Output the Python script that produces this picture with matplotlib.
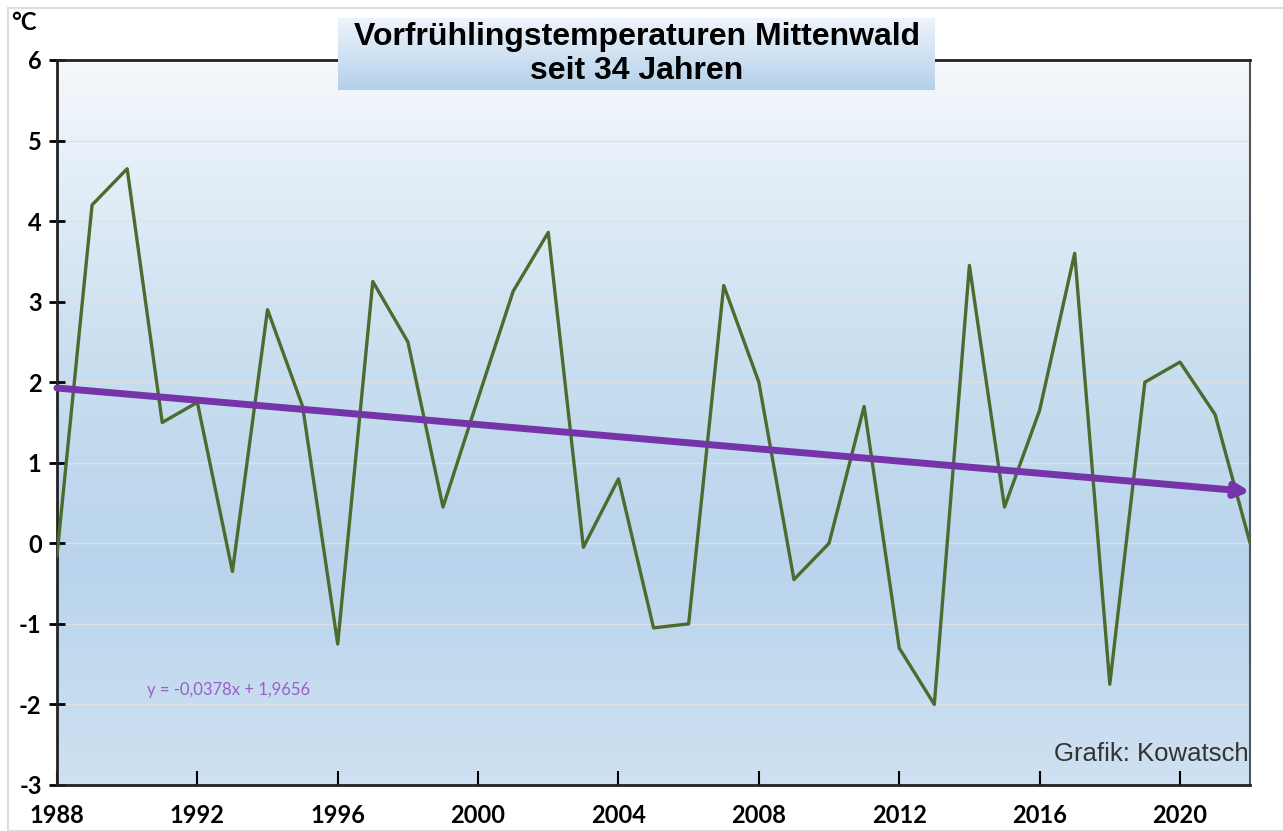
import numpy as np
import matplotlib.pyplot as plt
from matplotlib.colors import LinearSegmentedColormap
from matplotlib.patches import Rectangle

plt.rcParams["axes.unicode_minus"] = False

# Vorfrühlingstemperaturen Mittenwald, Mittelwerte in °C
years = list(range(1988, 2023))
temps = [-0.15, 4.2, 4.65, 1.5, 1.75, -0.35, 2.9, 1.7, -1.25, 3.25,
         2.5, 0.45, 1.8, 3.13, 3.86, -0.05, 0.8, -1.05, -1.0, 3.2,
         2.0, -0.45, 0.0, 1.7, -1.3, -2.0, 3.45, 0.45, 1.65, 3.6,
         -1.75, 2.0, 2.25, 1.6, 0.0]
# Excel-Trendlinie: y = -0,0378x + 1,9656 (x = 1, 2, ...)
slope = -0.0378
intercept = 1.9656
xticks = list(range(1988, 2023, 4))
yticks = list(range(-3, 7))

fig = plt.figure(figsize=(12.83, 8.31), dpi=100)
ax = fig.add_axes([0.0444, 0.0554, 0.9300, 0.8724])

# background gradient like the Excel plot area
bg = LinearSegmentedColormap.from_list(
    "bg", [(0.0, "#cfe1f2"), (0.30, "#b9d4ec"), (0.60, "#cadff0"), (1.0, "#f5f8fc")])
grad = np.linspace(0, 1, 256).reshape(-1, 1)
ax.imshow(grad, cmap=bg, aspect="auto", origin="lower",
          extent=[1988, 2022, -3, 6], zorder=0)

for y in yticks[1:-1]:
    ax.axhline(y, color="#dde1e6", lw=1, zorder=1)

ax.plot(years, temps, color="#4b6b2f", lw=2.4, zorder=3)

idx = np.arange(1, len(years) + 1)
trend = slope * idx + intercept
ax.annotate("", xy=(years[-1], trend[-1]), xytext=(years[0], trend[0]),
            arrowprops=dict(arrowstyle="-|>,head_length=0.8,head_width=0.4",
                            color="#7534a8", lw=5, shrinkA=0, shrinkB=0),
            zorder=4)

ax.text(1992.9, -1.82, "y = -0,0378x + 1,9656", color="#9b5fc7",
        fontsize=12, family="Lato", ha="center", va="center", zorder=5)
ax.text(2021.95, -2.62, "Grafik: Kowatsch", color="#333333", fontsize=18.5,
        family="Liberation Sans", ha="right", va="center", zorder=5)

ax.set_xlim(1988, 2022)
ax.set_ylim(-3, 6)
ax.set_xticks(xticks)
ax.set_yticks(yticks)
for lab in ax.get_xticklabels() + ax.get_yticklabels():
    lab.set_fontweight("bold")
    lab.set_family("Lato")
    lab.set_fontsize(17)
ax.tick_params(axis="y", direction="inout", length=12, width=2, pad=5)
ax.tick_params(axis="x", direction="in", length=10, width=1.5, pad=14)

for side in ["left", "bottom", "top"]:
    ax.spines[side].set_linewidth(2)
    ax.spines[side].set_color("#222222")
ax.spines["right"].set_linewidth(1.5)
ax.spines["right"].set_color("#555555")

fig.text(0.009, 0.973, "°C", fontsize=17, fontweight="bold", family="Lato",
         ha="left", va="center")

# title box with gradient
tx0, tx1, ty0, ty1 = 338 / 1283, 935 / 1283, 1 - 90 / 831, 1 - 18 / 831
tax = fig.add_axes([tx0, ty0, tx1 - tx0, ty1 - ty0])
tcm = LinearSegmentedColormap.from_list("t", ["#b3d0ea", "#eef4fb"])
tax.imshow(grad, cmap=tcm, aspect="auto", origin="lower", extent=[0, 1, 0, 1])
tax.set_axis_off()
tax.text(0.5, 0.5, "Vorfrühlingstemperaturen Mittenwald\nseit 34 Jahren",
         ha="center", va="center", fontsize=23, fontweight="bold",
         family="Liberation Sans", linespacing=1.2, transform=tax.transAxes)

fig.patches.append(Rectangle((8 / 1283, 0), 1, 1 - 8 / 831, transform=fig.transFigure,
                             fill=False, edgecolor="#dddddd", lw=1.5))

fig.savefig("out.png", dpi=100)
